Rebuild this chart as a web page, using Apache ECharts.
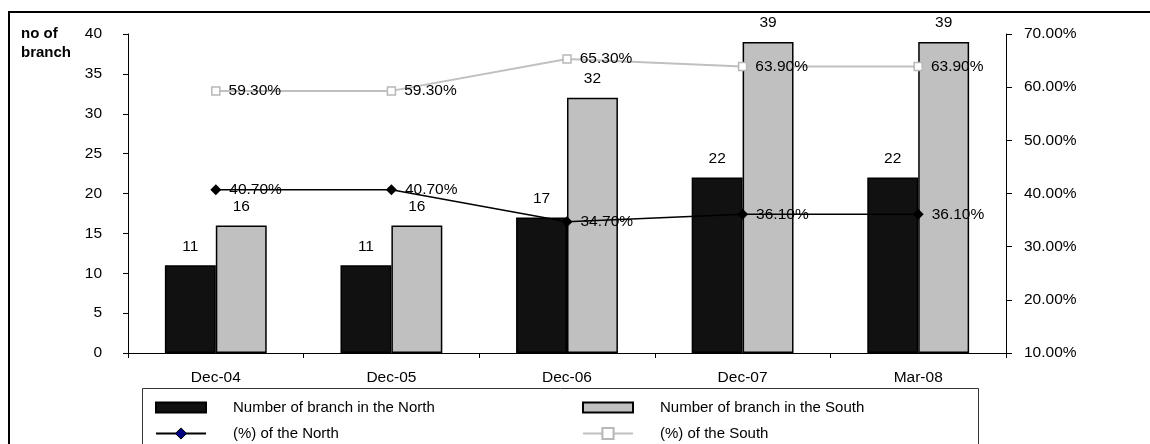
<!DOCTYPE html>
<html>
<head>
<meta charset="utf-8">
<script src="https://cdn.jsdelivr.net/npm/echarts@6/dist/echarts.min.js"></script>
<style>
  html, body { margin: 0; padding: 0; background: #fff; }
  #chart { width: 1150px; height: 444px; }
</style>
</head>
<body>
<div id="chart"></div>
<script>
// Branch counts and regional shares by period
const categories = ['Dec-04', 'Dec-05', 'Dec-06', 'Dec-07', 'Mar-08'];
const northBranches = [11, 11, 17, 22, 22];
const southBranches = [16, 16, 32, 39, 39];
const northShare = [40.7, 40.7, 34.7, 36.1, 36.1];
const southShare = [59.3, 59.3, 65.3, 63.9, 63.9];

const FONT = '"Liberation Sans", Arial, sans-serif';
const FS = 15.5;
const pct = v => Number(v).toFixed(2) + '%';

const chart = echarts.init(document.getElementById('chart'), null, { renderer: 'canvas' });

const legendBase = {
  itemWidth: 50,
  itemHeight: 10,
  selectedMode: false,
  textStyle: { fontFamily: FONT, fontSize: 15, color: '#000', padding: [0, 0, 0, 22] }
};

chart.setOption({
  animation: false,
  backgroundColor: '#fff',
  textStyle: { fontFamily: FONT },
  grid: { left: 128, right: 144, top: 34, bottom: 91 },
  graphic: [
    { type: 'rect', shape: { x: 9, y: 12, width: 1300, height: 600 },
      style: { fill: 'none', stroke: '#000', lineWidth: 2 }, silent: true },
    { type: 'rect', shape: { x: 142.5, y: 388.5, width: 836, height: 100 },
      style: { fill: 'none', stroke: '#333', lineWidth: 1 }, silent: true },
    { type: 'text', left: 21, top: 24,
      style: { text: 'no of\nbranch', fontFamily: FONT, fontSize: 15, fontWeight: 'bold',
               lineHeight: 19, fill: '#000' } }
  ],
  legend: [
    Object.assign({}, legendBase, { left: 150, top: 395, icon: 'rect', data: ['Number of branch in the North'] }),
    Object.assign({}, legendBase, { left: 577, top: 395, icon: 'rect', data: ['Number of branch in the South'] }),
    Object.assign({}, legendBase, { left: 150, top: 421, itemHeight: 14,
      data: [{ name: '(%) of the North', itemStyle: { color: '#000080', borderColor: '#000', borderWidth: 1 } }] }),
    Object.assign({}, legendBase, { left: 577, top: 421, itemHeight: 14, data: ['(%) of the South'] })
  ],
  xAxis: {
    type: 'category',
    data: categories,
    axisLine: { lineStyle: { color: '#000', width: 1 } },
    axisTick: { show: true, length: 5, inside: false, lineStyle: { color: '#000' } },
    axisLabel: { color: '#000', fontSize: FS, margin: 17 }
  },
  yAxis: [
    {
      type: 'value', min: 0, max: 40, interval: 5,
      axisLine: { show: true, lineStyle: { color: '#000', width: 1 } },
      axisTick: { show: true, length: 5, lineStyle: { color: '#000' } },
      axisLabel: { color: '#000', fontSize: FS, margin: 26 },
      splitLine: { show: false }
    },
    {
      type: 'value', min: 10, max: 70, interval: 10, position: 'right',
      axisLine: { show: true, lineStyle: { color: '#000', width: 1 } },
      axisTick: { show: true, length: 6, lineStyle: { color: '#000' } },
      axisLabel: { color: '#000', fontSize: FS, margin: 18, formatter: pct },
      splitLine: { show: false }
    }
  ],
  series: [
    {
      name: 'Number of branch in the North',
      type: 'bar',
      data: northBranches,
      barGap: '0%',
      barCategoryGap: '42%',
      itemStyle: { color: '#111111', borderColor: '#000', borderWidth: 1.5 },
      label: { show: true, position: 'top', distance: 11, color: '#000', fontSize: FS }
    },
    {
      name: 'Number of branch in the South',
      type: 'bar',
      data: southBranches,
      itemStyle: { color: '#c0c0c0', borderColor: '#000', borderWidth: 1.5 },
      label: { show: true, position: 'top', distance: 11, color: '#000', fontSize: FS }
    },
    {
      name: '(%) of the North',
      type: 'line',
      yAxisIndex: 1,
      data: northShare,
      symbol: 'diamond',
      symbolSize: 11,
      lineStyle: { color: '#000', width: 1.5 },
      itemStyle: { color: '#000' },
      label: { show: true, position: 'right', distance: 8, color: '#000', fontSize: FS, formatter: p => pct(p.value) },
      z: 5
    },
    {
      name: '(%) of the South',
      type: 'line',
      yAxisIndex: 1,
      data: southShare,
      symbol: 'rect',
      symbolSize: 8,
      lineStyle: { color: '#c0c0c0', width: 2 },
      itemStyle: { color: '#fff', borderColor: '#b8b8b8', borderWidth: 1.5 },
      label: { show: true, position: 'right', distance: 8, color: '#000', fontSize: FS, formatter: p => pct(p.value) },
      z: 5
    }
  ]
});
</script>
</body>
</html>
